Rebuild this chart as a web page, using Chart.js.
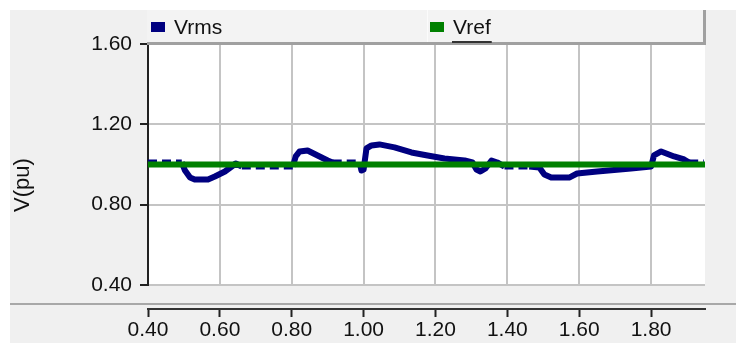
<!DOCTYPE html>
<html>
<head>
<meta charset="utf-8">
<script src="https://cdn.jsdelivr.net/npm/chart.js@4/dist/chart.umd.min.js"></script>
<style>
  html, body { margin: 0; padding: 0; background: #fff; }
  #wrap { width: 736px; height: 343px; }
</style>
</head>
<body>
<div id="wrap"><canvas id="c" width="736" height="343"></canvas></div>
<script>
// time axis (s) and measured rms voltage (pu)
const timeVals = [0.400, 0.494, 0.503, 0.517, 0.530, 0.567, 0.586, 0.614, 0.633, 0.644, 0.661,
  0.803, 0.811, 0.822, 0.844, 0.872, 0.900, 0.914, 0.989, 0.994, 1.000, 1.008, 1.022, 1.044,
  1.086, 1.133, 1.178, 1.225, 1.281, 1.303, 1.314, 1.325, 1.339, 1.356, 1.372, 1.392, 1.461,
  1.489, 1.503, 1.522, 1.572, 1.594, 1.650, 1.744, 1.800, 1.808, 1.828, 1.864, 1.892, 1.906, 1.947];
const vrms = [1.01, 1.01, 0.97, 0.935, 0.925, 0.925, 0.94, 0.965, 0.99, 1.005, 0.99,
  0.99, 1.04, 1.065, 1.07, 1.045, 1.02, 1.01, 1.01, 0.97, 0.975, 1.08, 1.095, 1.10,
  1.085, 1.06, 1.045, 1.03, 1.02, 1.01, 0.975, 0.965, 0.98, 1.02, 1.01, 0.99, 0.99,
  0.985, 0.95, 0.935, 0.935, 0.955, 0.965, 0.98, 0.99, 1.045, 1.065, 1.04, 1.025, 1.01, 1.01];
const refTimes = [0.40, 1.95];
const vref = [1.00, 1.00];
const xTicks = [0.40, 0.60, 0.80, 1.00, 1.20, 1.40, 1.60, 1.80];
const yTicks = [0.40, 0.80, 1.20, 1.60];
const legendNames = ['Vrms', 'Vref'];
const seriesColors = ['#000080', '#008000'];

const FONT = "'Liberation Sans', Arial, sans-serif";
const textColor = '#111';
const gridColor = '#c4c4c4';

// panel, plot background, separator and axis title
const frame = {
  id: 'frame',
  beforeDraw(chart) {
    const { ctx, chartArea: a } = chart;
    ctx.save();
    ctx.fillStyle = '#fff';
    ctx.fillRect(0, 0, chart.width, chart.height);
    ctx.fillStyle = '#f0f0f0';
    ctx.fillRect(10, 10, chart.width - 10, chart.height - 10);
    ctx.fillStyle = '#fff';
    ctx.fillRect(a.left, a.top, a.right - a.left, a.bottom - a.top);
    ctx.restore();
  },
  afterDraw(chart) {
    const { ctx } = chart;
    ctx.save();
    ctx.strokeStyle = '#a8a8a8';
    ctx.lineWidth = 2;
    ctx.beginPath();
    ctx.moveTo(10, 304); ctx.lineTo(chart.width, 304);
    ctx.stroke();
    ctx.translate(23, 185);
    ctx.rotate(-Math.PI / 2);
    ctx.fillStyle = textColor;
    ctx.font = '22px ' + FONT;
    ctx.textAlign = 'center';
    ctx.textBaseline = 'middle';
    ctx.fillText('V(pu)', 0, 0);
    ctx.restore();
  }
};

// legend strip on top of the plot
const legendBox = {
  id: 'legendBox',
  afterDraw(chart) {
    const { ctx } = chart;
    const l = 147, r = 705, t = 10, b = 44;
    ctx.save();
    ctx.fillStyle = '#f3f3f3';
    ctx.fillRect(l, t, r - l, b - t);
    ctx.fillStyle = '#a0a0a0';
    ctx.fillRect(r - 2, t, 3, b - t + 1);
    ctx.fillRect(l, b - 2, r - l, 3);
    ctx.fillStyle = '#fbfbfb';
    ctx.fillRect(427, t, 1, b - t - 2);
    const slots = [151, 430];
    ctx.font = '21px ' + FONT;
    ctx.textBaseline = 'middle';
    ctx.textAlign = 'left';
    legendNames.forEach((name, i) => {
      ctx.fillStyle = seriesColors[i];
      ctx.fillRect(slots[i], 22, 14, 10);
      ctx.fillStyle = textColor;
      ctx.fillText(name, slots[i] + 23, 28);
    });
    const w = ctx.measureText(legendNames[1]).width;
    ctx.fillStyle = '#333';
    ctx.fillRect(slots[1] + 22, 41, w + 2, 2);
    ctx.restore();
  }
};

const fmt = v => Number(v).toFixed(2);
// flat stretches near 1 pu of the sampled trace show up as separate dots
const flatDash = c => (c.p0.parsed.y === c.p1.parsed.y && Math.abs(c.p0.parsed.y - 1) < 0.02 ? [9, 5] : undefined);

new Chart(document.getElementById('c'), {
  type: 'scatter',
  data: {
    datasets: [
      {
        label: legendNames[1],
        data: refTimes.map((t, i) => ({ x: t, y: vref[i] })),
        showLine: true, borderColor: seriesColors[1], borderWidth: 6, pointRadius: 0, order: 0,
      },
      {
        label: legendNames[0],
        data: timeVals.map((t, i) => ({ x: t, y: vrms[i] })),
        showLine: true, borderColor: seriesColors[0], borderWidth: 6, pointRadius: 0,
        borderJoinStyle: 'round', order: 1,
        segment: { borderDash: flatDash },
      },
    ],
  },
  options: {
    responsive: false,
    animation: false,
    devicePixelRatio: 1,
    layout: { padding: { left: 0, top: 44, right: 31, bottom: 0 } },
    plugins: { legend: { display: false }, tooltip: { enabled: false } },
    scales: {
      x: {
        type: 'linear', position: 'bottom', min: 0.40, max: 1.95,
        afterBuildTicks: s => { s.ticks = xTicks.map(v => ({ value: v })); },
        grid: { color: gridColor, lineWidth: 2, drawTicks: false },
        border: { display: false },
        ticks: { display: false },
        afterFit: s => { s.height = 24; },
      },
      x2: {
        type: 'linear', position: 'bottom', min: 0.40, max: 1.95,
        afterBuildTicks: s => { s.ticks = xTicks.map(v => ({ value: v })); },
        grid: { drawOnChartArea: false, tickLength: 8, tickColor: '#222', tickWidth: 2 },
        border: { display: true, color: '#333', width: 2 },
        ticks: { color: textColor, font: { family: FONT, size: 21 }, padding: 1, callback: fmt },
        afterFit: s => { s.height = 34; },
      },
      y: {
        type: 'linear', min: 0.40, max: 1.60,
        afterBuildTicks: s => { s.ticks = yTicks.map(v => ({ value: v })); },
        grid: { color: gridColor, lineWidth: 2, tickLength: 8, tickColor: '#222', tickWidth: 2 },
        border: { display: true, color: '#222', width: 2 },
        ticks: { color: textColor, font: { family: FONT, size: 21 }, padding: 8, callback: fmt },
        afterFit: s => { s.width = 148; },
      },
    },
  },
  plugins: [frame, legendBox],
});
</script>
</body>
</html>
